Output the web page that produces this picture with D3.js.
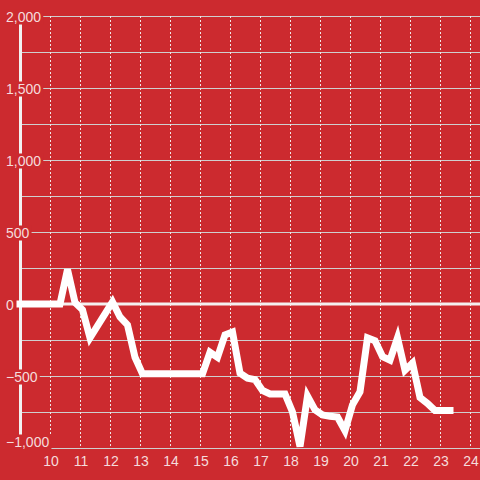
<!DOCTYPE html>
<html><head><meta charset="utf-8">
<script src="https://cdn.jsdelivr.net/npm/d3@7"></script>
<style>html,body{margin:0;padding:0;background:#cc2a2f;}svg{display:block;}</style>
</head><body>
<script>
const times = ["9:00","10:20","10:35","10:50","11:05","11:20","12:05","12:20","12:35","12:50","13:05","15:05","15:20","15:35","15:50","16:05","16:20","16:35","16:50","17:05","17:20","17:50","18:05","18:20","18:35","18:50","19:05","19:20","19:35","19:50","20:05","20:20","20:35","20:50","21:05","21:20","21:35","21:50","22:05","22:20","22:35","22:50","23:20"];
const values = [0,0,240,10,-40,-235,15,-90,-145,-370,-485,-485,-335,-370,-215,-195,-480,-515,-525,-600,-625,-625,-750,-990,-640,-735,-770,-780,-785,-880,-700,-610,-235,-255,-365,-390,-235,-460,-410,-650,-690,-740,-740];
const xTicks = [10,11,12,13,14,15,16,17,18,19,20,21,22,23,24];
const yTicks = [-1000,-500,0,500,1000,1500,2000];
const yGrid = [-1000,-750,-500,-250,0,250,500,750,1000,1250,1500,1750,2000];

const W = 480, H = 480;
const toHours = s => { const [h,m] = s.split(":").map(Number); return h + m/60; };
const data = times.map((t,i) => ({t: toHours(t), v: values[i]}));

const x = d3.scaleLinear().domain([9, 24]).range([20, 470]);
const y = d3.scaleLinear().domain([-1000, 2000]).range([448, 16]);

const svg = d3.select("body").append("svg").attr("width", W).attr("height", H);
svg.append("rect").attr("width", W).attr("height", H).attr("fill", "#cc2a2f");

svg.append("defs").append("clipPath").attr("id","plot")
  .append("rect").attr("x",0).attr("y",0).attr("width",W).attr("height",y(-1000));

// horizontal grid
svg.append("g").selectAll("line").data(yGrid).join("line")
  .attr("x1", 22).attr("x2", W)
  .attr("y1", d => Math.round(y(d))+0.5).attr("y2", d => Math.round(y(d))+0.5)
  .attr("stroke", "#cfcfcf").attr("stroke-width", 1);

// vertical dashed grid
svg.append("g").selectAll("line").data(xTicks).join("line")
  .attr("x1", d => Math.round(x(d))+0.5).attr("x2", d => Math.round(x(d))+0.5)
  .attr("y1", y(2000)).attr("y2", y(-1000))
  .attr("stroke", "#f0e6e6").attr("stroke-width", 1).attr("stroke-dasharray", "2,2");

// y axis bar
svg.append("line").attr("x1", 20.5).attr("x2", 20.5).attr("y1", y(2000)).attr("y2", y(-1000))
  .attr("stroke", "#f2f2f2").attr("stroke-width", 3);

// zero line
svg.append("line").attr("x1", 22).attr("x2", W).attr("y1", y(0)).attr("y2", y(0))
  .attr("stroke", "#f4f0f0").attr("stroke-width", 3);

// data line
const line = d3.line().x(d => x(d.t)).y(d => y(d.v));
svg.append("path").datum(data).attr("d", line)
  .attr("clip-path", "url(#plot)")
  .attr("fill", "none").attr("stroke", "#ffffff").attr("stroke-width", 7)
  .attr("stroke-linejoin", "miter").attr("stroke-miterlimit", 4).attr("stroke-linecap", "square");

// y labels with background
const fmt = d3.format(",");
const yl = svg.append("g").attr("font-family", "'Liberation Sans', Arial, sans-serif").attr("font-size", 14);
yTicks.forEach(v => {
  const cy = Math.min(y(v) + 1, 442);
  const g = yl.append("g");
  const t = g.append("text").attr("x", 6).attr("y", cy).attr("dy", "0.35em")
    .attr("fill", "#f5dcdc").text(fmt(v));
  const b = t.node().getBBox();
  g.insert("rect", "text").attr("x", 4).attr("y", cy - 7.5).attr("width", b.x + b.width - 4 + 2).attr("height", 15)
    .attr("fill", "#cc2a2f");
});

// x axis line (covered partially by label) and labels
svg.append("g").attr("font-family", "'Liberation Sans', Arial, sans-serif").attr("font-size", 14)
  .selectAll("text").data(xTicks).join("text")
  .attr("x", d => x(d) + 1).attr("y", 466).attr("text-anchor", "middle")
  .attr("fill", "#f5dcdc").text(d => d);
</script>
</body></html>
